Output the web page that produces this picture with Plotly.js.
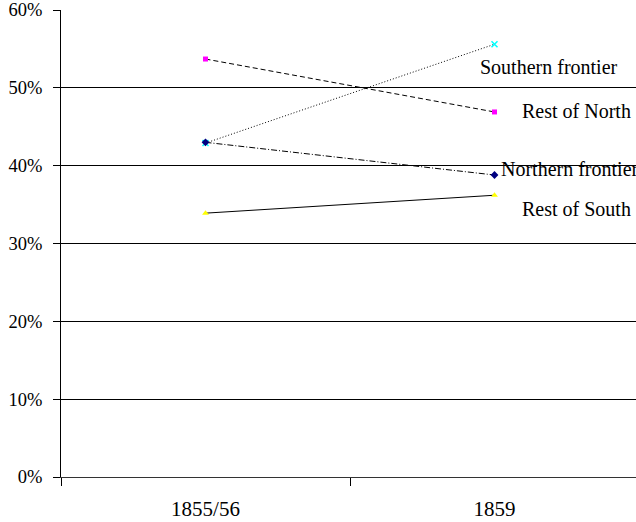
<!DOCTYPE html>
<html>
<head>
<meta charset="utf-8">
<script src="https://cdn.plot.ly/plotly-3.0.1.min.js"></script>
<style>html,body{margin:0;padding:0;background:#fff;overflow:hidden;}#chart{width:636px;height:522px;}</style>
</head>
<body>
<div id="chart"></div>
<script>
var categories = ["1855/56", "1859"];
var seriesNames = ["Rest of North", "Southern frontier", "Northern frontier", "Rest of South"];
var restOfNorth = [0.537, 0.469];
var southernFrontier = [0.429, 0.556];
var northernFrontier = [0.430, 0.388];
var restOfSouth = [0.339, 0.362];
var yTickVals = [0, 0.1, 0.2, 0.3, 0.4, 0.5, 0.6];

var FONT = "Liberation Serif";
var styles = [
  {dash: "5px,3px", symbol: "square", color: "#ff00ff", size: 5},
  {dash: "1px,2px", symbol: "x-thin", color: "#00ffff", size: 6},
  {dash: "6px,2px,1px,2px", symbol: "diamond", color: "#000080", size: 6},
  {dash: "solid", symbol: "triangle-up", color: "#ffff00", size: 6}
];
var series = [restOfNorth, southernFrontier, northernFrontier, restOfSouth];

var traces = series.map(function(vals, i) {
  var s = styles[i];
  return {
    x: categories, y: vals, name: seriesNames[i], type: "scatter", mode: "lines+markers",
    line: {color: "#000", width: 1, dash: s.dash},
    marker: {symbol: s.symbol, color: s.color, size: s.size,
             line: {color: s.color, width: s.symbol === "x-thin" ? 1.5 : 0}},
    cliponaxis: false
  };
});

var annotations = [
  {text: seriesNames[1], x: 1, y: southernFrontier[1], xshift: -17, yshift: -23},
  {text: seriesNames[0], x: 1, y: restOfNorth[1], xshift: 25, yshift: 1},
  {text: seriesNames[2], x: 1, y: northernFrontier[1], xshift: 4, yshift: 6},
  {text: seriesNames[3], x: 1, y: restOfSouth[1], xshift: 25, yshift: -14}
].map(function(a) {
  a.xref = "x"; a.yref = "y"; a.showarrow = false; a.xanchor = "left"; a.yanchor = "middle";
  a.font = {family: FONT, size: 20, color: "#000"};
  return a;
});

var layout = {
  width: 636, height: 522,
  margin: {l: 61, r: 0, t: 10, b: 45},
  paper_bgcolor: "#fff", plot_bgcolor: "#fff",
  showlegend: false,
  font: {family: FONT, size: 19, color: "#000"},
  xaxis: {
    type: "category", range: [-0.5, 1.4896],
    tickson: "boundaries", ticks: "outside", ticklen: 8, tickcolor: "#000", tickwidth: 1,
    showline: true, linecolor: "#333", linewidth: 1,
    showgrid: false, zeroline: false,
    ticklabelstandoff: 13,
    tickfont: {family: FONT, size: 21, color: "#000"}
  },
  yaxis: {
    range: [0, 0.6], tickvals: yTickVals, tickformat: ".0%",
    ticks: "outside", ticklen: 7, tickcolor: "#000", tickwidth: 1,
    showline: true, linecolor: "#000", linewidth: 1,
    showgrid: true, gridcolor: "#000", gridwidth: 1, zeroline: false,
    ticklabelstandoff: 7, ticklabeloverflow: "allow",
    tickfont: {family: FONT, size: 18.5, color: "#000"}
  },
  annotations: annotations
};

Plotly.newPlot("chart", traces, layout, {displayModeBar: false, staticPlot: true});
</script>
</body>
</html>
